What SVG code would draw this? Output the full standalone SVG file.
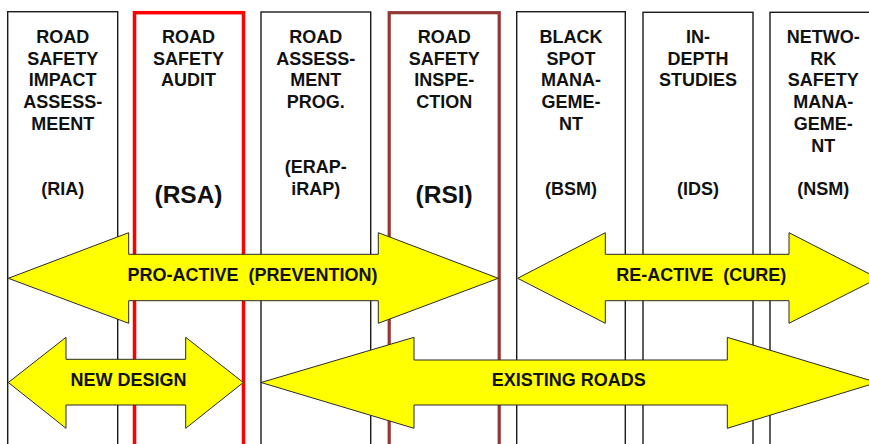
<svg xmlns="http://www.w3.org/2000/svg" width="869" height="444" viewBox="0 0 869 444">
<style>
.col{fill:#fff;stroke:#1a1a1a;stroke-width:1.4}
.red{fill:#fff;stroke:#ff0000;stroke-width:3.5}
.brn{fill:#fff;stroke:#953735;stroke-width:3.2}
.t{font-family:"Liberation Sans",Arial,sans-serif;font-weight:bold;font-size:18px;fill:#111;text-anchor:middle}
.big{font-size:24.5px}
.arr{fill:#ffff00;stroke:#2a2a2a;stroke-width:1}
</style>
<rect width="869" height="444" fill="#fff"/>
<g id="ria">
<rect class="col" x="7.7" y="11.7" width="110" height="460"/>
<text class="t" x="62.7" y="42.7">ROAD</text>
<text class="t" x="62.7" y="64.5">SAFETY</text>
<text class="t" x="62.7" y="86.3">IMPACT</text>
<text class="t" x="62.7" y="108.1">ASSESS-</text>
<text class="t" x="62.7" y="129.9">MEENT</text>
<text class="t" x="62.7" y="195">(RIA)</text>
</g>
<g id="rsa">
<rect class="red" x="134.5" y="12.7" width="109" height="460"/>
<text class="t" x="188.5" y="42.7">ROAD</text>
<text class="t" x="188.5" y="64.5">SAFETY</text>
<text class="t" x="188.5" y="86.3">AUDIT</text>
<text class="t big" x="188.5" y="202.5">(RSA)</text>
</g>
<g id="erap">
<rect class="col" x="261" y="12" width="109.7" height="460"/>
<text class="t" x="315.8" y="42.7">ROAD</text>
<text class="t" x="315.8" y="64.5">ASSESS-</text>
<text class="t" x="315.8" y="86.3">MENT</text>
<text class="t" x="315.8" y="108.1">PROG.</text>
<text class="t" x="315.8" y="172.5">(ERAP-</text>
<text class="t" x="315.8" y="194.5">iRAP)</text>
</g>
<g id="rsi">
<rect class="brn" x="389.2" y="12.7" width="110" height="460"/>
<text class="t" x="444.2" y="42.7">ROAD</text>
<text class="t" x="444.2" y="64.5">SAFETY</text>
<text class="t" x="444.2" y="86.3">INSPE-</text>
<text class="t" x="444.2" y="108.1">CTION</text>
<text class="t big" x="444.2" y="202.7">(RSI)</text>
</g>
<g id="bsm">
<rect class="col" x="516.7" y="11.7" width="108.6" height="460"/>
<text class="t" x="571" y="42.7">BLACK</text>
<text class="t" x="571" y="64.5">SPOT</text>
<text class="t" x="571" y="86.3">MANA-</text>
<text class="t" x="571" y="108.1">GEME-</text>
<text class="t" x="571" y="129.9">NT</text>
<text class="t" x="571" y="195">(BSM)</text>
</g>
<g id="ids">
<rect class="col" x="643" y="12.3" width="110" height="460"/>
<text class="t" x="698" y="42.7">IN-</text>
<text class="t" x="698" y="64.5">DEPTH</text>
<text class="t" x="698" y="86.3">STUDIES</text>
<text class="t" x="698" y="195">(IDS)</text>
</g>
<g id="nsm">
<rect class="col" x="770" y="12.3" width="107" height="460"/>
<text class="t" x="823.3" y="42.7">NETWO-</text>
<text class="t" x="823.3" y="64.5">RK</text>
<text class="t" x="823.3" y="86.3">SAFETY</text>
<text class="t" x="823.3" y="108.1">MANA-</text>
<text class="t" x="823.3" y="129.9">GEME-</text>
<text class="t" x="823.3" y="151.7">NT</text>
<text class="t" x="823.3" y="195">(NSM)</text>
</g>
<g id="connectors">
<g id="proactive">
<polygon class="arr" points="8.3,278.3 128.7,232.7 128.7,254.3 378.3,254.3 378.3,232.7 498.3,278.3 378.3,323.3 378.3,300.7 128.7,300.7 128.7,323.3"/>
<text class="t" x="252.5" y="281" xml:space="preserve">PRO-ACTIVE  (PREVENTION)</text>
</g>
<g id="reactive">
<polygon class="arr" points="517.7,278.3 605.3,232.7 605.3,254.3 789,254.3 789,232.7 878,278.3 789,323.3 789,300.7 605.3,300.7 605.3,323.3"/>
<text class="t" x="701.3" y="281" xml:space="preserve">RE-ACTIVE  (CURE)</text>
</g>
<g id="newdesign">
<polygon class="arr" points="8.3,382.5 66,337.3 66,359.3 185.7,359.3 185.7,337.3 243.3,382.5 185.7,428.3 185.7,405 66,405 66,428.3"/>
<text class="t" x="128.4" y="385.7">NEW DESIGN</text>
</g>
<g id="existing">
<polygon class="arr" points="261,382.5 414,337.3 414,360 727.3,360 727.3,337.3 877,382.5 727.3,428.3 727.3,405 414,405 414,428.3"/>
<text class="t" x="568.7" y="385.7">EXISTING ROADS</text>
</g>
</g>
</svg>
